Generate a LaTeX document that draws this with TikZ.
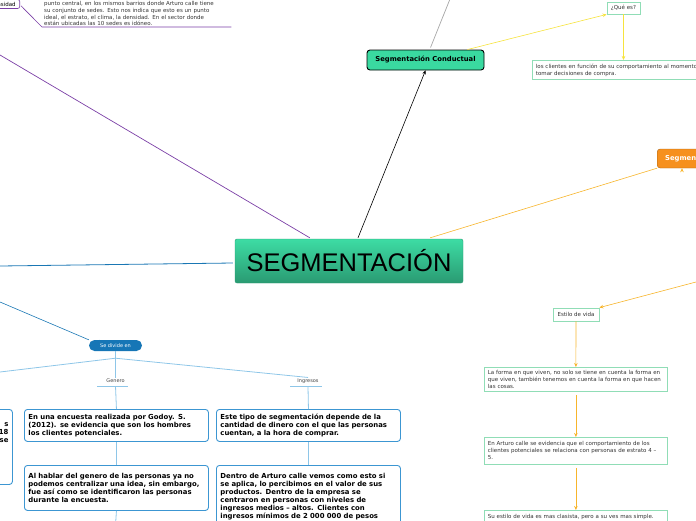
\documentclass[tikz,border=0pt]{standalone}
\usepackage{fontspec}
\setmainfont{DejaVu Sans}
\newfontfamily\rootfont{Liberation Sans}
\usetikzlibrary{arrows.meta,positioning}
\definecolor{rootA}{HTML}{3DDCA4}
\definecolor{rootB}{HTML}{2A9A72}
\definecolor{mainfill}{HTML}{3AD9A0}
\definecolor{orangefill}{HTML}{F6901E}
\definecolor{sdblue}{HTML}{1676B6}
\definecolor{treeblue}{HTML}{8EC6E8}
\definecolor{cardblue}{HTML}{3C96D2}
\definecolor{notegreen}{HTML}{90DDB6}
\definecolor{notetext}{HTML}{333333}
\definecolor{labelgray}{HTML}{444444}
\definecolor{yelline}{HTML}{F6E33E}
\definecolor{orgline}{HTML}{F7B52C}
\definecolor{lineblue}{HTML}{1A77B4}
\definecolor{purpline}{HTML}{7B3FA6}

\begin{document}
\begin{tikzpicture}[x=1pt,y=-1pt,
  root/.style={rounded corners=2pt, top color=rootA, bottom color=rootB, draw=rootB, minimum width=228pt, minimum height=44pt, inner sep=0pt, font=\rootfont\fontsize{25.5}{28}\selectfont},
  main/.style={rounded corners=3pt, draw=black, line width=0.9pt, fill=mainfill, minimum width=117pt, minimum height=20pt, inner sep=0pt, font=\bfseries\fontsize{6.8}{8}\selectfont},
  side/.style={rounded corners=3pt, draw=orangefill!70!black, line width=0.4pt, fill=orangefill, minimum height=19pt, inner xsep=8pt, inner ysep=0pt, text=white, font=\bfseries\fontsize{6.8}{8}\selectfont},
  pill/.style={rounded corners=5.5pt, fill=sdblue, text=white, minimum width=53pt, minimum height=11pt, inner sep=0pt, font=\fontsize{5}{6}\selectfont},
  lbl/.style={inner sep=1pt, text=labelgray, font=\fontsize{5}{6}\selectfont},
  card/.style={rounded corners=3pt, draw=cardblue, line width=0.9pt, fill=white, text width=176pt, inner xsep=4pt, inner ysep=4pt, align=left, anchor=north west, font=\bfseries\fontsize{6.9}{8}\selectfont},
  note/.style={draw=notegreen, line width=0.8pt, fill=white, inner xsep=3.5pt, inner ysep=2pt, align=left, text=notetext, font=\fontsize{5.5}{7}\selectfont},
  arr/.style={-{Stealth[length=4pt,width=3.5pt]}, line width=0.6pt},
  tree/.style={treeblue, line width=0.8pt}
]
  \useasboundingbox (0,0) rectangle (696,520);
  \clip (0,0) rectangle (696,520);

  % central topic and main branches
  \node[root] (seg) at (349,261) {SEGMENTACIÓN};
  \node[main] (cond) at (425.5,60) {Segmentación Conductual};
  \node[side, anchor=west, text width=80pt, align=left] (psico) at (657,158.5) {Segmentación};
  \node[pill] (sd) at (115.5,345.5) {Se divide en};

  % conductual
  \node[note, anchor=center, minimum width=33pt, minimum height=12pt, inner sep=0pt] (que) at (623.5,8) {¿Qué es?};
  \node[note, anchor=north west, minimum height=19pt, text width=175pt] (def) at (532,60)
    {los clientes en función de su comportamiento al momento de\\tomar decisiones de compra.};

  % estilo de vida
  \node[note, anchor=center, minimum width=46pt, minimum height=13pt, inner sep=0pt] (est) at (576,314.5) {Estilo de vida};
  \node[note, anchor=north west, text width=176pt, minimum height=24pt] (g1) at (484,367)
    {La forma en que viven, no solo se tiene en cuenta la forma en\\que viven, también tenemos en cuenta la forma en que hacen\\las cosas.};
  \node[note, anchor=north west, text width=176pt, minimum height=27pt] (g2) at (484,437)
    {En Arturo calle se evidencia que el comportamiento de los\\clientes potenciales se relaciona con personas de estrato 4 –\\5.};
  \node[note, anchor=north west, text width=176pt, minimum height=20pt] (g3) at (484,510)
    {Su estilo de vida es mas clasista, pero a su ves mas simple.\\ \mbox{}};

  % geografica (cut)
  \node[draw=purpline, rounded corners=2pt, line width=0.6pt, anchor=east, minimum height=9pt, inner xsep=4pt, inner ysep=0pt, font=\fontsize{5.5}{6}\selectfont] (dens) at (20,4) {Densidad};
  \node[anchor=south west, text width=185pt, inner xsep=2pt, inner ysep=1pt, align=left, text=notetext, font=\fontsize{5.5}{6.6}\selectfont] (geo) at (42,27)
    {punto central, en los mismos barrios donde Arturo calle tiene\\su conjunto de sedes. Esto nos indica que esto es un punto\\ideal, el estrato, el clima, la densidad. En el sector donde\\están ubicadas las 10 sedes es idóneo.};

  % genero / ingresos
  \node[lbl] (gen) at (115.5,381) {Genero};
  \node[lbl] (ing) at (308,381) {Ingresos};
  \node[card, minimum height=32pt] (b1) at (24,409)
    {En una encuesta realizada por Godoy. S.\\(2012). se evidencia que son los hombres\\los clientes potenciales.};
  \node[card, minimum height=45pt] (b2) at (24,465)
    {Al hablar del genero de las personas ya no\\podemos centralizar una idea, sin embargo,\\fue así como se identificaron las personas\\durante la encuesta.};
  \node[card, minimum height=32pt] (b3) at (216,409)
    {Este tipo de segmentación depende de la\\cantidad de dinero con el que las personas\\cuentan, a la hora de comprar.};
  \node[card, minimum height=62pt, anchor=north west] (b4) at (216,465)
    {Dentro de Arturo calle vemos como esto si\\se aplica, lo percibimos en el valor de sus\\productos. Dentro de la empresa se\\centraron en personas con niveles de\\ingresos medios – altos. Clientes con\\ingresos mínimos de 2 000 000 de pesos};
  \node[card, minimum height=75pt, align=right] (b0) at (-172,409)
    {\mbox{}\\s\hspace*{8pt}\\\ 18\\se\hspace*{4pt}\\\mbox{}\\\mbox{}\\\mbox{}\\\mbox{}};

  % free ends
  \coordinate (up) at (452,-6);
  \coordinate (pl) at (0,55);
  \coordinate (bl) at (0,266);
  \coordinate (bl2) at (0,302);
  \coordinate (rt) at (696,282);
  \coordinate (lt) at (0,372);
  \coordinate (dn) at (115.5,525);

  \draw[arr, black] (seg.north) ++(9,-1) -- (cond.south);
  \draw[gray!70, line width=0.7pt] (cond.north) ++(5,-2) -- (up);
  \draw[arr, yelline] (cond.north east) ++(-17,0) -- (que.west |- que.south);
  \draw[arr, yelline] (que.south) -- (que.south |- def.north);
  \draw[arr, orgline] (seg.north east) ++(-33,-1) -- (psico.south west) ++(25,0);
  \draw[arr, orgline] (rt) -- (est.north east);
  \draw[arr, orgline] (est.south) -- (g1.north);
  \draw[arr, orgline] (g1.south) ++(0,3) -- (g2.north);
  \draw[arr, orgline] (g2.south) ++(0,3) -- (g3.north);
  \draw[purpline, line width=0.7pt] (seg.north west) ++(75,-1) -- (pl);
  \draw[purpline, line width=0.6pt] (dens.south east) ++(1,-3) -- (geo.south west) -- (geo.south east);
  \draw[lineblue, line width=0.8pt] (seg.west) ++(-2,2) -- (bl);
  \draw[arr, lineblue] (bl2) -- (sd.north west) ++(11,0);

  % tree under "Se divide en"
  \draw[tree] (sd.south) -- ++(0,7) coordinate (sdj);
  \draw[tree] (sdj) -- (lt);
  \draw[tree] (sdj) -- (gen.north);
  \draw[tree] (sdj) -- (ing.north);
  \draw[tree] (gen.south west) ++(-8,2) -- ++(31,0);
  \draw[tree] (ing.south west) ++(-6,2) -- ++(32,0);
  \draw[tree] (gen.south) ++(0,2) -- (b1.north);
  \draw[tree] (ing.south) ++(0,2) -- (b3.north);
  \draw[tree] (b1.south) -- (b2.north);
  \draw[tree] (b3.south) -- (b4.north);
  \draw[tree] (b2.south) -- (dn);
\end{tikzpicture}
\end{document}
